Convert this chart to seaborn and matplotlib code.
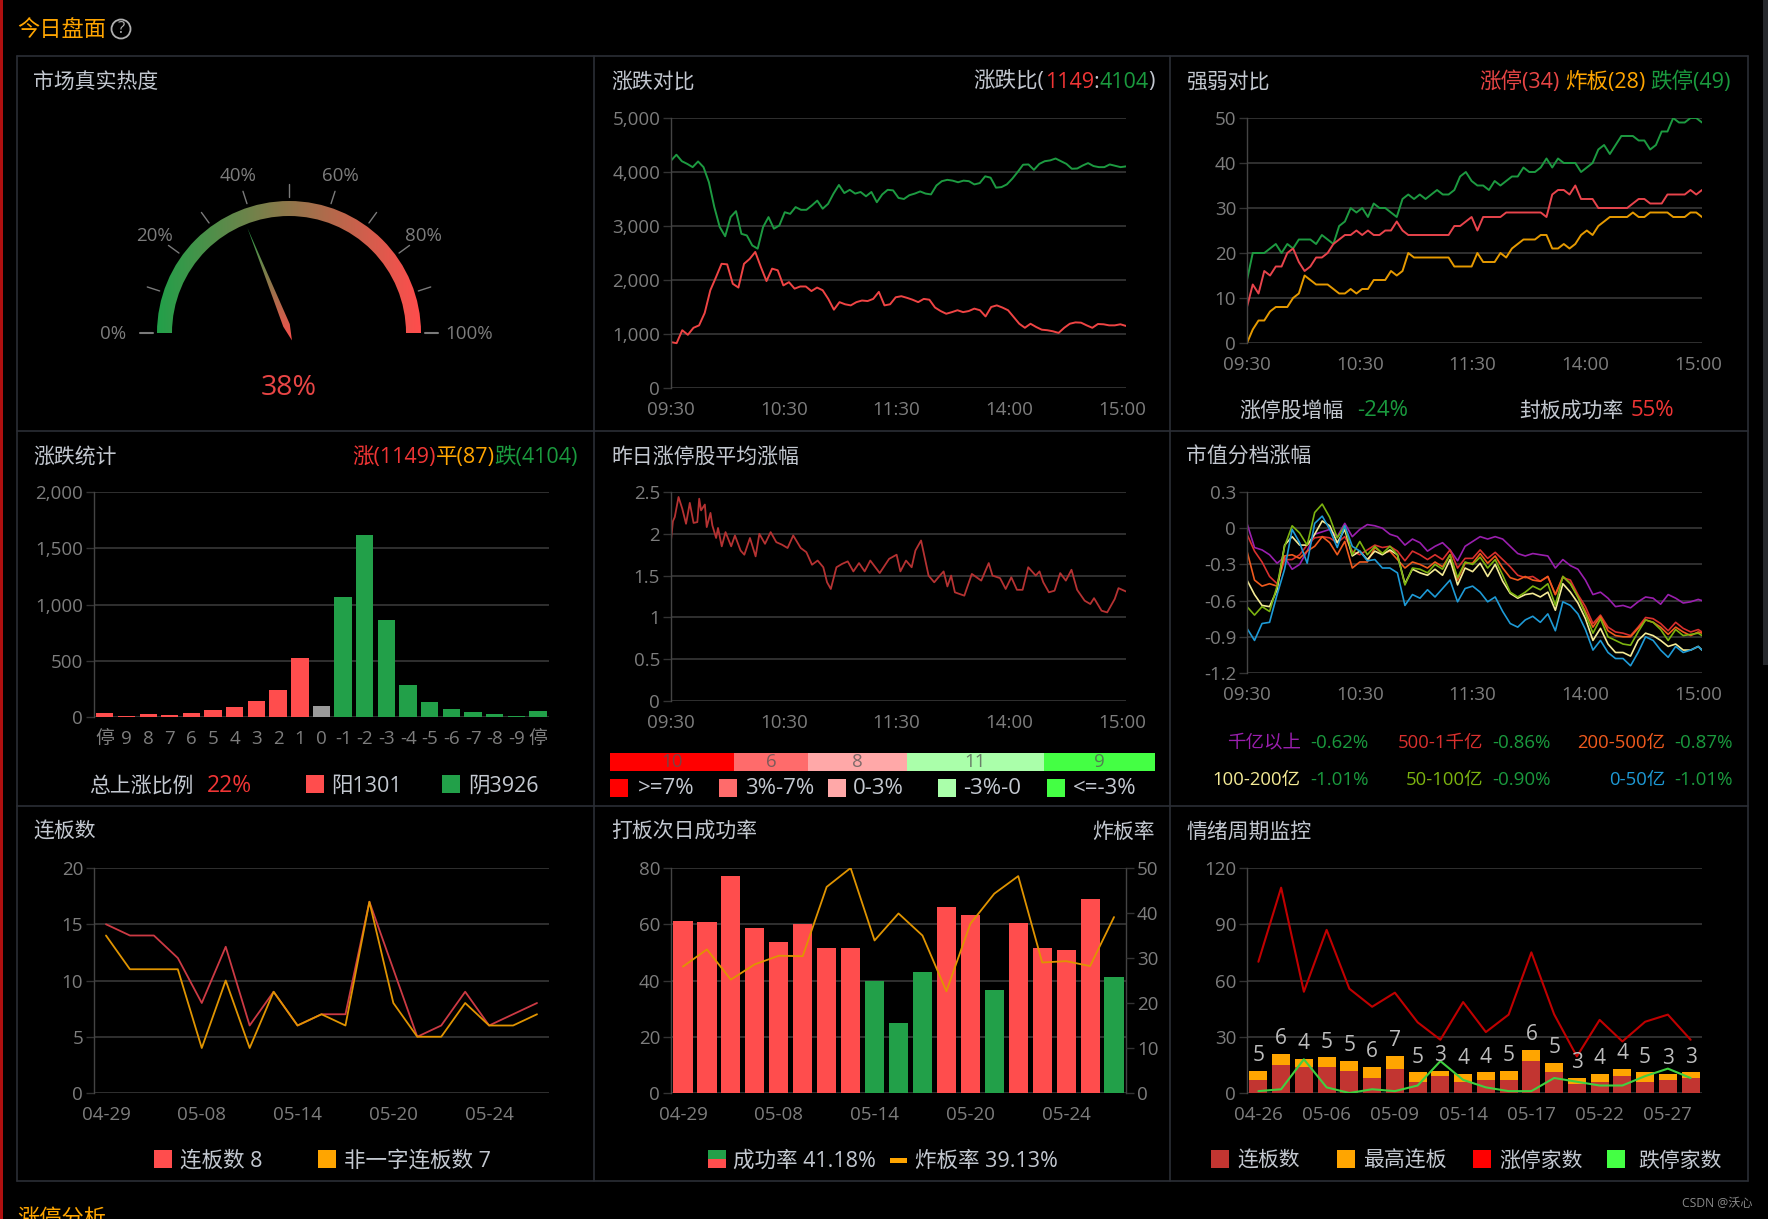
import numpy as np
import matplotlib
matplotlib.use("Agg")
import matplotlib.pyplot as plt
from matplotlib.patches import Wedge, Polygon, Rectangle
from matplotlib.colors import LinearSegmentedColormap
import seaborn as sns

# ---- data ----
gauge_value = 38
gauge_labels = {0: "0%", 20: "20%", 40: "40%", 60: "60%", 80: "80%", 100: "100%"}

time_ticks = [0, 60, 120, 180, 240]
time_labels = ["09:30", "10:30", "11:30", "14:00", "15:00"]

fall_count = [4210, 4320, 4200, 4150, 4090, 4195, 4090, 3810, 3350, 2980, 2810, 3165, 3275, 2855, 2825, 2640, 2580, 2980,
              3165, 2950, 3010, 3255, 3225, 3350, 3300, 3300, 3380, 3470, 3320, 3410, 3600, 3760, 3610, 3670, 3600,
              3630, 3550, 3630, 3440, 3585, 3670, 3660, 3520, 3500, 3570, 3600, 3640, 3600, 3585, 3750, 3830, 3855,
              3840, 3810, 3840, 3830, 3770, 3795, 3920, 3895, 3710, 3720, 3770, 3875, 4000, 4135, 4140, 4040, 4150,
              4200, 4215, 4250, 4200, 4150, 4060, 4065, 4120, 4165, 4110, 4090, 4090, 4140, 4115, 4090, 4104]
rise_count = [850, 830, 1070, 985, 1115, 1160, 1390, 1810, 2050, 2300, 2290, 1930, 1860, 2300, 2390, 2520, 2240, 1980,
              2210, 2180, 1900, 1960, 1840, 1880, 1880, 1795, 1860, 1810, 1650, 1450, 1590, 1550, 1530, 1590, 1620,
              1610, 1650, 1780, 1530, 1550, 1680, 1700, 1670, 1635, 1590, 1650, 1635, 1490, 1425, 1375, 1405, 1440,
              1405, 1425, 1470, 1440, 1325, 1500, 1530, 1490, 1440, 1315, 1190, 1115, 1190, 1130, 1080, 1070, 1050,
              1020, 1115, 1190, 1215, 1210, 1160, 1115, 1185, 1180, 1160, 1160, 1180, 1149]

limit_down = [14, 20, 20, 20, 21, 22, 20, 22, 21, 23, 23, 23, 22, 24, 23, 22, 26, 27, 30, 29, 30, 28, 31, 30, 30, 29, 28,
              32, 33, 32, 33, 32, 33, 34, 33, 33, 34, 37, 38, 36, 35, 35, 34, 36, 35, 36, 37, 37, 39, 38, 38, 39, 41, 39,
              41, 40, 40, 40, 38, 39, 40, 43, 44, 42, 44, 46, 46, 46, 45, 45, 43, 44, 47, 47, 50, 49, 49, 50, 50, 49]
limit_up = [8, 13, 11, 16, 15, 17, 17, 20, 21, 18, 16, 17, 19, 19, 20, 22, 23, 24, 24, 25, 24, 25, 24, 24, 25, 25, 27,
            25, 24, 24, 24, 24, 24, 24, 24, 24, 26, 26, 27, 28, 25, 28, 28, 28, 28, 29, 29, 29, 29, 29, 29, 29, 28, 33,
            34, 34, 33, 35, 32, 32, 32, 30, 30, 30, 30, 30, 30, 31, 32, 32, 31, 31, 31, 33, 33, 33, 33, 34, 33, 34]
broken_board = [0, 3, 5, 5, 7, 8, 8, 8, 10, 11, 15, 14, 13, 13, 13, 12, 11, 11, 12, 11, 12, 12, 14, 14, 14, 16, 15, 16,
                20, 19, 19, 19, 19, 19, 19, 19, 17, 17, 17, 17, 20, 18, 18, 18, 20, 19, 21, 22, 23, 23, 23, 24, 24, 21,
                21, 22, 21, 22, 24, 25, 24, 26, 27, 28, 28, 28, 28, 29, 28, 28, 29, 29, 29, 29, 28, 28, 28, 29, 29, 28]

dist_labels = ["停", "9", "8", "7", "6", "5", "4", "3", "2", "1", "0", "-1", "-2", "-3", "-4", "-5", "-6", "-7", "-8", "-9", "停"]
dist_values = [40, 12, 25, 20, 35, 60, 90, 140, 240, 525, 95, 1070, 1620, 860, 285, 130, 75, 45, 28, 12, 52]

avg_minutes = [0, 1, 2, 4, 6, 8, 10, 12, 14, 15, 16, 18, 19, 21, 22, 24, 25, 27, 29, 32, 34, 37, 39, 42, 45, 47, 50, 53,
               56, 59, 62, 65, 69, 72, 75, 78, 81, 83, 85, 88, 91, 94, 97, 100, 103, 106, 111, 116, 120, 122, 125, 128,
               130, 133, 137, 140, 143, 145, 147, 149, 151, 156, 160, 165, 169, 171, 175, 178, 181, 184, 187, 190, 194,
               196, 198, 201, 204, 207, 210, 213, 216, 220, 223, 225, 229, 232, 236, 238, 242]
avg_gain = [1.92, 2.15, 2.2, 2.44, 2.3, 2.12, 2.37, 2.13, 2.14, 2.42, 2.28, 2.35, 2.08, 2.25, 2.1, 1.95, 2.07, 1.85, 2.02,
            1.85, 1.98, 1.8, 1.75, 1.95, 1.73, 2.0, 1.88, 2.02, 1.9, 1.87, 1.83, 1.98, 1.83, 1.78, 1.63, 1.68, 1.6, 1.42,
            1.34, 1.6, 1.64, 1.67, 1.55, 1.65, 1.55, 1.68, 1.53, 1.7, 1.75, 1.55, 1.68, 1.6, 1.8, 1.92, 1.5, 1.42, 1.5,
            1.55, 1.37, 1.5, 1.3, 1.26, 1.52, 1.44, 1.65, 1.5, 1.47, 1.34, 1.48, 1.33, 1.33, 1.6, 1.5, 1.55, 1.42, 1.3,
            1.32, 1.53, 1.44, 1.57, 1.33, 1.2, 1.16, 1.23, 1.08, 1.06, 1.22, 1.35, 1.31]
band_counts = [10, 6, 8, 11, 9]
band_labels = [">=7%", "3%-7%", "0-3%", "-3%-0", "<=-3%"]

cap_minutes = list(range(0, 241, 4)) + [242]
cap_over_1000 = [0.04, -0.16, -0.18, -0.22, -0.29, -0.24, -0.34, -0.30, -0.19, -0.05, -0.03, -0.01, -0.07, 0.04, -0.07, -0.01,
                 0.03, 0.02, 0.0, -0.05, -0.07, -0.14, -0.09, -0.12, -0.19, -0.15, -0.12, -0.18, -0.27, -0.15, -0.11,
                 -0.07, -0.09, -0.07, -0.09, -0.15, -0.21, -0.23, -0.21, -0.22, -0.23, -0.33, -0.26, -0.31, -0.34, -0.43,
                 -0.55, -0.53, -0.58, -0.65, -0.64, -0.66, -0.61, -0.57, -0.58, -0.63, -0.55, -0.58, -0.62, -0.61, -0.59, -0.60]
cap_500_1000 = [-0.05, -0.19, -0.28, -0.40, -0.46, -0.26, -0.26, -0.22, -0.14, -0.08, -0.07, -0.08, -0.12, -0.07, -0.19, -0.22,
                -0.18, -0.14, -0.16, -0.15, -0.19, -0.27, -0.19, -0.22, -0.26, -0.22, -0.26, -0.18, -0.33, -0.25, -0.25,
                -0.18, -0.25, -0.20, -0.26, -0.32, -0.39, -0.41, -0.40, -0.44, -0.40, -0.55, -0.41, -0.43, -0.55, -0.65,
                -0.79, -0.72, -0.82, -0.86, -0.87, -0.89, -0.82, -0.74, -0.75, -0.79, -0.85, -0.78, -0.83, -0.86, -0.84, -0.86]
cap_200_500 = [-0.19, -0.43, -0.48, -0.46, -0.48, -0.23, -0.22, -0.25, -0.19, -0.15, -0.07, -0.12, -0.22, -0.11, -0.33, -0.28,
               -0.28, -0.16, -0.21, -0.19, -0.26, -0.33, -0.28, -0.30, -0.33, -0.28, -0.32, -0.22, -0.43, -0.29, -0.29,
               -0.21, -0.29, -0.23, -0.33, -0.41, -0.43, -0.40, -0.43, -0.44, -0.40, -0.55, -0.40, -0.46, -0.57, -0.69,
               -0.82, -0.73, -0.85, -0.89, -0.90, -0.90, -0.83, -0.76, -0.78, -0.82, -0.88, -0.82, -0.86, -0.89, -0.86, -0.87]
cap_100_200 = [-0.43, -0.55, -0.64, -0.65, -0.51, -0.14, -0.07, -0.14, -0.14, -0.05, 0.06, 0.02, -0.12, -0.01, -0.23, -0.19,
               -0.26, -0.19, -0.22, -0.18, -0.22, -0.46, -0.34, -0.37, -0.39, -0.34, -0.39, -0.26, -0.47, -0.33, -0.36,
               -0.29, -0.40, -0.30, -0.44, -0.54, -0.58, -0.55, -0.54, -0.57, -0.53, -0.68, -0.46, -0.53, -0.62, -0.75,
               -0.93, -0.83, -0.96, -1.03, -1.03, -1.06, -0.93, -0.87, -0.89, -0.93, -0.98, -0.96, -1.01, -1.01, -0.98, -1.01]
cap_50_100 = [-0.65, -0.72, -0.65, -0.69, -0.48, -0.15, 0.02, -0.04, -0.14, 0.13, 0.20, 0.09, -0.08, 0.02, -0.22, -0.11,
              -0.22, -0.15, -0.21, -0.15, -0.22, -0.47, -0.33, -0.34, -0.37, -0.30, -0.34, -0.22, -0.41, -0.28, -0.30,
              -0.24, -0.33, -0.26, -0.39, -0.53, -0.57, -0.53, -0.48, -0.51, -0.46, -0.64, -0.40, -0.46, -0.57, -0.71,
              -0.87, -0.75, -0.90, -0.93, -0.96, -0.97, -0.86, -0.76, -0.78, -0.84, -0.93, -0.84, -0.89, -0.88, -0.87, -0.89]
cap_0_50 = [-0.83, -0.93, -0.79, -0.78, -0.55, -0.34, -0.01, -0.12, -0.29, 0.04, 0.10, -0.01, -0.16, 0.02, -0.15, -0.19,
            -0.27, -0.26, -0.33, -0.33, -0.37, -0.64, -0.55, -0.58, -0.51, -0.57, -0.50, -0.43, -0.61, -0.50, -0.48,
            -0.53, -0.61, -0.57, -0.69, -0.79, -0.82, -0.76, -0.73, -0.78, -0.71, -0.85, -0.61, -0.64, -0.71, -0.84,
            -1.01, -0.93, -1.03, -1.08, -1.08, -1.14, -1.03, -0.90, -0.93, -1.01, -1.07, -0.98, -1.03, -1.01, -0.98, -1.01]
cap_names = ["千亿以上", "500-1千亿", "200-500亿", "100-200亿", "50-100亿", "0-50亿"]
cap_pcts = ["-0.62%", "-0.86%", "-0.87%", "-1.01%", "-0.90%", "-1.01%"]

dates_19 = ["04-29", "04-30", "05-06", "05-07", "05-08", "05-09", "05-10", "05-13", "05-14", "05-15", "05-16", "05-17",
            "05-20", "05-21", "05-22", "05-23", "05-24", "05-27", "05-28"]
streak_all = [15, 14, 14, 12, 8, 13, 6, 9, 6, 7, 7, 17, 11, 5, 6, 9, 6, 7, 8]
streak_open = [14, 11, 11, 11, 4, 10, 4, 9, 6, 7, 6, 17, 8, 5, 5, 8, 6, 6, 7]

next_day_rate = [61, 60.8, 77.1, 58.8, 53.6, 60, 51.4, 51.5, 39.8, 24.9, 43.1, 66.2, 63.2, 36.5, 60.5, 51.5, 51, 69, 41.2]
break_rate = [28.1, 31.9, 25.2, 28.6, 30.5, 30.4, 45.8, 50, 33.9, 39.9, 35, 22.6, 37.6, 44.3, 48.2, 29, 29.3, 28.2, 39.1]

dates_20 = ["04-26"] + dates_19
streak_count = [7, 15, 14, 14, 12, 8, 13, 6, 9, 6, 7, 7, 17, 11, 5, 6, 9, 6, 7, 8]
streak_high = [5, 6, 4, 5, 5, 6, 7, 5, 3, 4, 4, 5, 6, 5, 3, 4, 4, 5, 3, 3]
up_stocks = [70, 109.5, 54, 87, 55.6, 46, 53.5, 37.7, 28.4, 48.5, 32.5, 41.8, 75, 42, 19.5, 39, 27.5, 38, 41.8, 28.4]
down_stocks = [1, 2, 18, 3, 0, 2, 1, 4, 17, 7, 3, 1, 1, 8, 6, 4, 4, 9, 13, 8]

# ---- colours ----
RED = "#ff4d4d"
GREEN = "#22a049"
ORANGE = "#ffa500"
TXT = "#c3c8d0"
TICK = "#7d7d7d"
GRID = "#333333"
FRAME = "#2b2e35"
TXT_RED = "#f03535"
TXT_GREEN = "#1a9a3e"

W, H = 1768, 1219
sns.set_theme(style="dark", rc={"figure.facecolor": "black", "axes.facecolor": "none", "savefig.facecolor": "black"})
plt.rcParams["font.family"] = ["Open Sans", "Noto Sans CJK SC", "DejaVu Sans"]

fig = plt.figure(figsize=(W / 100, H / 100), dpi=100)

# full figure layer in pixel coordinates for frames and loose text
bg = fig.add_axes([0, 0, 1, 1], zorder=5)
bg.set_xlim(0, W)
bg.set_ylim(H, 0)
bg.axis("off")


def label(x, y, s, color=TXT, size=15, ha="left"):
    # the CJK font sits a little high with va=center
    return bg.text(x, y + 2, s, color=color, fontsize=size, ha=ha, va="center")


def right_text(x_end, y, parts, size=15.5):
    # several colours on one line, laid out from the right edge
    rend = fig.canvas.get_renderer()
    x = x_end
    for s, c in reversed(parts):
        t = label(x, y, s, c, size, "right")
        x -= t.get_window_extent(rend).width


def square(x, y, color, side=18):
    bg.add_patch(Rectangle((x, y - side / 2), side, side, color=color, lw=0))


def make_axes(x0, y0, x1, y1):
    ax = fig.add_axes([x0 / W, 1 - y1 / H, (x1 - x0) / W, (y1 - y0) / H])
    return ax


def style_axes(ax, yticks, ylabels, xticks, xlabels, ylim):
    ax.set_ylim(*ylim)
    ax.set_yticks(yticks)
    ax.set_yticklabels(ylabels)
    ax.set_xticks(xticks)
    ax.set_xticklabels(xlabels)
    ax.set_xlabel("")
    ax.set_ylabel("")
    ax.grid(True, axis="y", color=GRID, lw=1.3)
    ax.grid(False, axis="x")
    ax.set_axisbelow(True)
    ax.tick_params(axis="y", length=5.8, width=1, color=GRID, labelcolor=TICK, labelsize=13.5, pad=2, left=True)
    ax.tick_params(axis="x", length=0, labelcolor=TICK, labelsize=13.5, pad=9.5)
    for name, spine in ax.spines.items():
        spine.set_visible(name == "left")
        spine.set_color("#444444")
        spine.set_linewidth(1)


# frames
for y in [56, 431, 806, 1181]:
    bg.plot([17, 1748], [y, y], color=FRAME, lw=1.2)
for x in [17, 594, 1170, 1748]:
    bg.plot([x, x], [56, 1181], color=FRAME, lw=1.2)
bg.add_patch(Rectangle((0, 0), 2.5, H, color="#b01010", lw=0))
bg.add_patch(Rectangle((1763, 0), 5, 665, color="#26282c", lw=0))

label(17, 29, "今日盘面", ORANGE, 16)
bg.add_patch(plt.Circle((121, 29), 9.5, fill=False, ec="#b0b0b0", lw=1.3))
label(121, 27, "?", "#b0b0b0", 12, "center")
label(17, 1217, "涨停分析", ORANGE, 16)
label(1752, 1201, "CSDN @沃心", "#8a8a8a", 8.7, "right")

for x, y, s in [(33, 80, "市场真实热度"), (611, 80, "涨跌对比"), (1186, 80, "强弱对比"),
                (33, 455, "涨跌统计"), (611, 455, "昨日涨停股平均涨幅"), (1186, 455, "市值分档涨幅"),
                (33, 830, "连板数"), (611, 830, "打板次日成功率"), (1186, 830, "情绪周期监控")]:
    label(x, y, s)

# ---- gauge ----
cx, cy = 289, 333
R, r = 132, 117
ga = fig.add_axes([0, 0, 1, 1], zorder=2)
ga.axis("off")
gauge_cmap = LinearSegmentedColormap.from_list("gauge", [GREEN, RED])
grad = np.linspace(0, 1, 256).reshape(1, -1)
arc = ga.imshow(grad, cmap=gauge_cmap, extent=(cx - R, cx + R, cy, cy - R), aspect="auto")
arc.set_clip_path(Wedge((cx, cy), R, 180, 360, width=R - r, transform=ga.transData))
for pct in range(0, 101, 10):
    a = np.pi * (1 - pct / 100)
    ga.plot([cx + 136 * np.cos(a), cx + 149 * np.cos(a)], [cy - 136 * np.sin(a), cy - 149 * np.sin(a)],
            color="#7a7a7a", lw=1.5 if pct in (0, 100) else 1)
for pct, s in gauge_labels.items():
    a = np.pi * (1 - pct / 100)
    gx, gy = cx + 166 * np.cos(a), cy - 166 * np.sin(a)
    if pct == 0:
        gx -= 10
    if pct == 100:
        gx += 14
    label(gx, gy - 1, s, TICK, 13.5, "center")
a = np.pi * (1 - gauge_value / 100)
ux, uy = np.cos(a), -np.sin(a)
px, py = -uy, ux
needle = Polygon([(cx + 113 * ux, cy + 113 * uy), (cx + 8 * ux + 4 * px, cy + 8 * uy + 4 * py),
                  (cx - 8 * ux, cy - 8 * uy), (cx + 8 * ux - 3 * px, cy + 8 * uy - 3 * py)],
                 closed=True, transform=ga.transData, fc="none", ec="none")
ga.add_patch(needle)
ngrad = ga.imshow(np.linspace(0, 1, 256).reshape(-1, 1), cmap=gauge_cmap,
                  extent=(cx - 60, cx + 20, cy + 10, cy - 108), aspect="auto")
ngrad.set_clip_path(needle)
ga.set_xlim(0, W)
ga.set_ylim(H, 0)
label(cx, 386, f"{gauge_value}%", "#e84545", 20.5, "center")

# ---- rise / fall counts ----
ax = make_axes(671, 118, 1126, 388)
sns.lineplot(x=np.linspace(0, 242, len(fall_count)), y=fall_count, color="#1d9a41", lw=1.4, ax=ax, estimator=None)
sns.lineplot(x=np.linspace(0, 242, len(rise_count)), y=rise_count, color="#ef4444", lw=1.4, ax=ax, estimator=None)
ax.set_xlim(0, 242)
style_axes(ax, range(0, 5001, 1000), [f"{v:,}" for v in range(0, 5001, 1000)], time_ticks, time_labels, (0, 5000))
right_text(1155, 80, [("涨跌比(", TXT), ("1149", TXT_RED), (":", TXT), ("4104", TXT_GREEN), (")", TXT)])

# ---- strong / weak ----
ax = make_axes(1247, 118, 1702, 343)
for series, col in [(limit_down, "#1d9a41"), (limit_up, "#e8444c"), (broken_board, "#e69a00")]:
    sns.lineplot(x=np.linspace(0, 242, len(series)), y=series, color=col, lw=1.4, ax=ax, estimator=None)
ax.set_xlim(0, 242)
style_axes(ax, range(0, 51, 10), [str(v) for v in range(0, 51, 10)], time_ticks, time_labels, (0, 50))
right_text(1731, 80, [("涨停(34)", "#e84545"), (" ", TXT), ("炸板(28)", ORANGE), (" ", TXT), ("跌停(49)", TXT_GREEN)])
label(1239, 409, "涨停股增幅")
label(1357, 409, "-24%", TXT_GREEN, 16)
label(1519, 409, "封板成功率")
label(1631, 409, "55%", TXT_RED, 16)

# ---- distribution bars ----
ax = make_axes(94, 492, 549, 717)
idx = np.arange(len(dist_values))
dist_colors = [RED] * 10 + ["#9a9a9a"] + [GREEN] * 10
sns.barplot(x=idx, y=dist_values, hue=idx, palette=dist_colors, legend=False, saturation=1, width=0.8, linewidth=0, ax=ax)
ax.set_xlim(-0.5, 20.5)
style_axes(ax, range(0, 2001, 500), [f"{v:,}" for v in range(0, 2001, 500)], idx, dist_labels, (0, 2000))
right_text(578, 455, [("涨(1149)", TXT_RED), ("平(87)", ORANGE), ("跌(4104)", TXT_GREEN)])
label(89, 784, "总上涨比例")
label(207, 784, "22%", TXT_RED, 16.5)
square(306, 784, RED)
label(331, 784, "阳1301", TXT, 15.5)
square(442, 784, GREEN)
label(468, 784, "阴3926", TXT, 15.5)

# ---- average gain of yesterday's limit-up stocks ----
ax = make_axes(671, 492, 1126, 701)
sns.lineplot(x=avg_minutes, y=avg_gain, color="#b53232", lw=1.3, ax=ax, estimator=None)
ax.set_xlim(0, 242)
style_axes(ax, [0, 0.5, 1, 1.5, 2, 2.5], ["0", "0.5", "1", "1.5", "2", "2.5"], time_ticks, time_labels, (0, 2.5))

band_colors = ["#ff0000", "#ff6b6b", "#ffa8a8", "#aaffaa", "#44ff44"]
ax = make_axes(610, 753, 1155, 771)
left = 0
for v, col in zip(band_counts, band_colors):
    sns.barplot(x=[v], y=[0], orient="h", left=left, width=1, color=col, saturation=1, linewidth=0, ax=ax)
    ax.text(left + v / 2, 0, str(v), color="#555555", alpha=0.75, fontsize=13.5, ha="center", va="center")
    left += v
ax.set_xlim(0, sum(band_counts))
ax.set_ylim(-0.5, 0.5)
ax.axis("off")
for sx, tx, col, s in zip([610, 719, 828, 938, 1047], [638, 745, 853, 963, 1073], band_colors, band_labels):
    square(sx, 788, col)
    label(tx, 787, s, TXT, 16)

# ---- market cap bands ----
ax = make_axes(1247, 492, 1702, 673)
cap_series = [cap_over_1000, cap_500_1000, cap_200_500, cap_100_200, cap_50_100, cap_0_50]
cap_colors = ["#9a1fae", "#d9302e", "#f05a1e", "#f5eb96", "#7cb310", "#1e9ad6"]
for series, col in zip(cap_series, cap_colors):
    sns.lineplot(x=cap_minutes, y=series, color=col, lw=1.2, ax=ax, estimator=None)
ax.set_xlim(0, 242)
cap_ticks = [-1.2, -0.9, -0.6, -0.3, 0, 0.3]
style_axes(ax, cap_ticks, ["-1.2", "-0.9", "-0.6", "-0.3", "0", "0.3"], time_ticks, time_labels, (-1.2, 0.3))
name_ends = [1301, 1483, 1665] * 2
pct_starts = [1310, 1492, 1674] * 2
for i in range(6):
    y = 741 if i < 3 else 778
    label(name_ends[i], y, cap_names[i], cap_colors[i], 13.3, "right")
    label(pct_starts[i], y, cap_pcts[i], TXT_GREEN, 13.5)

# ---- streak lines ----
ax = make_axes(94, 868, 549, 1093)
idx = np.arange(len(dates_19))
sns.lineplot(x=idx, y=streak_all, color="#cc3a44", lw=1.3, ax=ax, estimator=None)
sns.lineplot(x=idx, y=streak_open, color="#e09400", lw=1.3, ax=ax, estimator=None)
ax.set_xlim(-0.5, 18.5)
style_axes(ax, range(0, 21, 5), [str(v) for v in range(0, 21, 5)], idx[::4], dates_19[::4], (0, 20))
square(154, 1159, RED)
label(180, 1159, "连板数 8", TXT, 15.5)
square(318, 1159, ORANGE)
label(344, 1159, "非一字连板数 7", TXT, 15.5)

# ---- next-day success rate ----
ax = make_axes(671, 868, 1126, 1093)
idx = np.arange(len(next_day_rate))
rate_colors = [RED if v > 50 else GREEN for v in next_day_rate]
sns.barplot(x=idx, y=next_day_rate, hue=idx, palette=rate_colors, legend=False, saturation=1, width=0.8, linewidth=0, ax=ax)
ax.set_xlim(-0.5, 18.5)
style_axes(ax, range(0, 81, 20), [str(v) for v in range(0, 81, 20)], idx[::4], dates_19[::4], (0, 80))
ax.spines["right"].set_visible(True)
ax.spines["right"].set_color("#444444")
ax2 = ax.twinx()
sns.lineplot(x=idx, y=break_rate, color="#e09400", lw=1.3, ax=ax2, estimator=None)
ax2.set_ylim(0, 50)
ax2.set_yticks(range(0, 51, 10))
ax2.set_ylabel("")
ax2.grid(False)
ax2.tick_params(axis="y", right=True, length=5.8, width=1, color=GRID, labelcolor=TICK, labelsize=13.5, pad=2)
for spine in ax2.spines.values():
    spine.set_visible(False)
right_text(1155, 830, [("炸板率", TXT)], 15)
bg.add_patch(Rectangle((708, 1150), 18, 9, color=GREEN, lw=0))
bg.add_patch(Rectangle((708, 1159), 18, 9, color=RED, lw=0))
label(733, 1159, "成功率 41.18%", TXT, 15.5)
bg.add_patch(Rectangle((890, 1158), 17, 5, color=ORANGE, lw=0))
label(915, 1159, "炸板率 39.13%", TXT, 15.5)

# ---- sentiment cycle ----
ax = make_axes(1247, 868, 1702, 1093)
idx = np.arange(len(dates_20))
sns.barplot(x=idx, y=streak_count, color="#c23531", saturation=1, width=0.8, linewidth=0, ax=ax)
sns.barplot(x=idx, y=streak_high, bottom=streak_count, color=ORANGE, saturation=1, width=0.8, linewidth=0, ax=ax)
sns.lineplot(x=idx, y=up_stocks, color="#c00000", lw=1.5, ax=ax, estimator=None)
sns.lineplot(x=idx, y=down_stocks, color="#40d040", lw=1.5, ax=ax, estimator=None)
ax.set_xlim(-0.5, 19.5)
style_axes(ax, range(0, 121, 30), [str(v) for v in range(0, 121, 30)], idx[::3], dates_20[::3], (0, 120))
for i in idx:
    ax.annotate(str(streak_high[i]), (i, streak_count[i] + streak_high[i]), xytext=(0, 11), textcoords="offset points",
                color="#bdbdbd", fontsize=15, ha="center", va="center", zorder=6)
for sx, tx, col, s in [(1211, 1237, "#c23531", "连板数"), (1337, 1363, ORANGE, "最高连板"),
                       (1473, 1499, "#ff0000", "涨停家数"), (1607, 1638, "#44ff44", "跌停家数")]:
    square(sx, 1159, col)
    label(tx, 1159, s)

fig.savefig("out.png", dpi=100)
